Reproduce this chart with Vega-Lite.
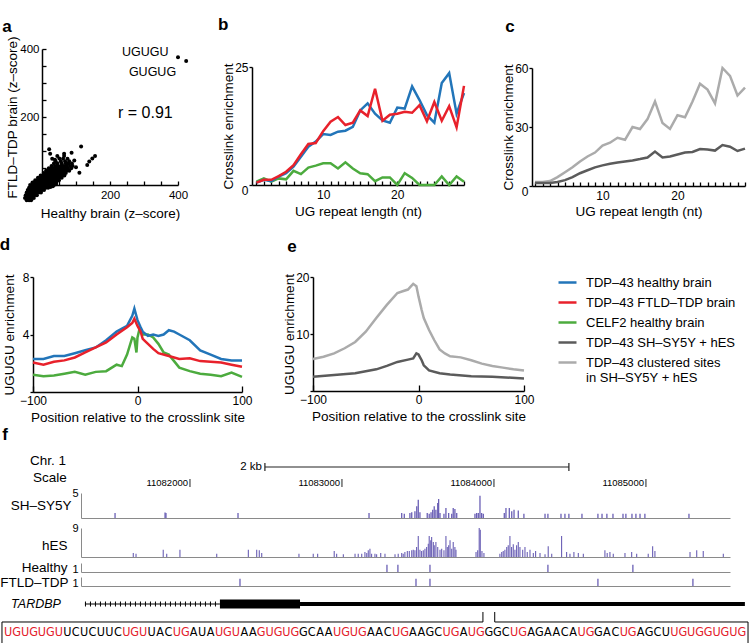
{
"$schema":"https://vega.github.io/schema/vega-lite/v6.json",
"width":750,"height":643,"padding":0,"autosize":{"type":"none"},
"config":{"view":{"stroke":null},"font":"Liberation Sans",
"axis":{"grid":false,"domainColor":"#000","domainWidth":1.5,"tickColor":"#000","tickWidth":1.3,"labelColor":"#000","labelFontSize":12,"labelFont":"Liberation Sans","titleFont":"Liberation Sans","titleColor":"#000","titleFontSize":13.5,"titleFontWeight":"normal","labelFlush":false,"labelOverlap":false,"labelBound":false},
"text":{"font":"Liberation Sans","color":"#000"},
"line":{"strokeWidth":2.5}},
"datasets":{
"scatter":[
{"x":-45,"y":-45},{"x":-38,"y":-45},{"x":-32,"y":-45},
{"x":-50,"y":-38},{"x":-44,"y":-38},{"x":-37,"y":-38},{"x":-30,"y":-38},{"x":-24,"y":-38},
{"x":-48,"y":-30},{"x":-42,"y":-30},{"x":-35,"y":-30},{"x":-28,"y":-30},{"x":-22,"y":-30},{"x":-15,"y":-30},
{"x":-45,"y":-22},{"x":-38,"y":-22},{"x":-31,"y":-22},{"x":-24,"y":-22},{"x":-17,"y":-22},{"x":-10,"y":-22},{"x":-3,"y":-22},
{"x":-42,"y":-15},{"x":-35,"y":-15},{"x":-28,"y":-15},{"x":-21,"y":-15},{"x":-14,"y":-15},{"x":-7,"y":-15},{"x":0,"y":-15},{"x":6,"y":-15},
{"x":-38,"y":-8},{"x":-31,"y":-8},{"x":-24,"y":-8},{"x":-17,"y":-8},{"x":-10,"y":-8},{"x":-3,"y":-8},{"x":4,"y":-8},{"x":11,"y":-8},{"x":18,"y":-8},{"x":25,"y":-6},{"x":32,"y":-4},
{"x":-35,"y":0},{"x":-28,"y":0},{"x":-21,"y":0},{"x":-14,"y":0},{"x":-7,"y":0},{"x":0,"y":0},{"x":7,"y":0},{"x":14,"y":0},{"x":21,"y":0},{"x":28,"y":0},{"x":35,"y":0},{"x":41,"y":2},
{"x":-28,"y":7},{"x":-21,"y":7},{"x":-14,"y":7},{"x":-7,"y":7},{"x":0,"y":7},{"x":7,"y":7},{"x":14,"y":7},{"x":21,"y":7},{"x":28,"y":7},{"x":35,"y":7},{"x":42,"y":7},
{"x":-20,"y":14},{"x":-13,"y":14},{"x":-6,"y":14},{"x":1,"y":14},{"x":8,"y":14},{"x":15,"y":14},{"x":22,"y":14},{"x":29,"y":14},{"x":36,"y":14},{"x":43,"y":14},{"x":50,"y":14},
{"x":-12,"y":21},{"x":-5,"y":21},{"x":2,"y":21},{"x":9,"y":21},{"x":16,"y":21},{"x":23,"y":21},{"x":30,"y":21},{"x":37,"y":21},{"x":44,"y":21},{"x":51,"y":21},{"x":58,"y":21},
{"x":-4,"y":28},{"x":3,"y":28},{"x":10,"y":28},{"x":17,"y":28},{"x":24,"y":28},{"x":31,"y":28},{"x":38,"y":28},{"x":45,"y":28},{"x":52,"y":28},{"x":60,"y":28},{"x":66,"y":28},
{"x":5,"y":35},{"x":12,"y":35},{"x":19,"y":35},{"x":26,"y":35},{"x":33,"y":35},{"x":40,"y":35},{"x":47,"y":35},{"x":54,"y":35},{"x":62,"y":35},{"x":70,"y":35},
{"x":12,"y":42},{"x":19,"y":42},{"x":26,"y":42},{"x":34,"y":42},{"x":41,"y":42},{"x":48,"y":42},{"x":56,"y":42},{"x":64,"y":42},{"x":72,"y":42},{"x":80,"y":42},
{"x":20,"y":49},{"x":28,"y":49},{"x":36,"y":49},{"x":44,"y":49},{"x":52,"y":49},{"x":60,"y":49},{"x":68,"y":49},{"x":76,"y":49},{"x":86,"y":49},
{"x":28,"y":56},{"x":38,"y":56},{"x":46,"y":56},{"x":55,"y":56},{"x":64,"y":56},{"x":72,"y":56},{"x":82,"y":56},{"x":90,"y":56},
{"x":35,"y":63},{"x":45,"y":63},{"x":58,"y":63},{"x":70,"y":63},{"x":78,"y":63},{"x":88,"y":63},
{"x":40,"y":70},{"x":55,"y":70},{"x":68,"y":70},{"x":80,"y":70},
{"x":30,"y":77},{"x":62,"y":77},{"x":75,"y":77},{"x":45,"y":85},{"x":65,"y":85},
{"x":21,"y":105},{"x":115,"y":113},{"x":156,"y":85},{"x":148,"y":78},{"x":139,"y":69},{"x":133,"y":59},{"x":110,"y":36},{"x":87,"y":95},{"x":65,"y":92},{"x":51,"y":78},{"x":38,"y":74},{"x":100,"y":52},{"x":95,"y":72},{"x":24,"y":92},
{"x":400,"y":376},{"x":424,"y":365}],
"ugB":[
{"len":1,"s":"celf2","v":0.7},{"len":2,"s":"celf2","v":1.4},{"len":3,"s":"celf2","v":0.7},{"len":4,"s":"celf2","v":1.4},{"len":5,"s":"celf2","v":1.2},{"len":6,"s":"celf2","v":3.0},{"len":7,"s":"celf2","v":2.3},{"len":8,"s":"celf2","v":3.7},{"len":9,"s":"celf2","v":4.1},{"len":10,"s":"celf2","v":4.6},{"len":11,"s":"celf2","v":4.6},{"len":12,"s":"celf2","v":3.5},{"len":13,"s":"celf2","v":4.8},{"len":14,"s":"celf2","v":3.5},{"len":15,"s":"celf2","v":2.5},{"len":16,"s":"celf2","v":2.3},{"len":17,"s":"celf2","v":0.8},{"len":18,"s":"celf2","v":1.6},{"len":19,"s":"celf2","v":1.6},{"len":20,"s":"celf2","v":0},{"len":21,"s":"celf2","v":2.5},{"len":22,"s":"celf2","v":1.5},{"len":23,"s":"celf2","v":0},{"len":24,"s":"celf2","v":0},{"len":25,"s":"celf2","v":0},{"len":26,"s":"celf2","v":1.8},{"len":27,"s":"celf2","v":0},{"len":28,"s":"celf2","v":1.8},{"len":29,"s":"celf2","v":0.7},
{"len":1,"s":"healthy","v":0.5},{"len":2,"s":"healthy","v":1.1},{"len":3,"s":"healthy","v":0.8},{"len":4,"s":"healthy","v":1.8},{"len":5,"s":"healthy","v":2.5},{"len":6,"s":"healthy","v":3.9},{"len":7,"s":"healthy","v":6.0},{"len":8,"s":"healthy","v":8.1},{"len":9,"s":"healthy","v":9.2},{"len":10,"s":"healthy","v":10.8},{"len":11,"s":"healthy","v":10.6},{"len":12,"s":"healthy","v":11.3},{"len":13,"s":"healthy","v":11.5},{"len":14,"s":"healthy","v":12.3},{"len":15,"s":"healthy","v":15.8},{"len":16,"s":"healthy","v":17.3},{"len":17,"s":"healthy","v":15.1},{"len":18,"s":"healthy","v":13.7},{"len":19,"s":"healthy","v":13.2},{"len":20,"s":"healthy","v":16.4},{"len":21,"s":"healthy","v":16.2},{"len":22,"s":"healthy","v":20.9},{"len":23,"s":"healthy","v":18.0},{"len":24,"s":"healthy","v":14.8},{"len":25,"s":"healthy","v":13.2},{"len":26,"s":"healthy","v":21.6},{"len":27,"s":"healthy","v":23.7},{"len":28,"s":"healthy","v":15.1},{"len":29,"s":"healthy","v":19.5},
{"len":1,"s":"ftld","v":0.5},{"len":2,"s":"ftld","v":1.1},{"len":3,"s":"ftld","v":1.1},{"len":4,"s":"ftld","v":1.9},{"len":5,"s":"ftld","v":2.8},{"len":6,"s":"ftld","v":4.2},{"len":7,"s":"ftld","v":6.5},{"len":8,"s":"ftld","v":8.7},{"len":9,"s":"ftld","v":8.9},{"len":10,"s":"ftld","v":11.4},{"len":11,"s":"ftld","v":13.4},{"len":12,"s":"ftld","v":14.4},{"len":13,"s":"ftld","v":12.7},{"len":14,"s":"ftld","v":13.2},{"len":15,"s":"ftld","v":15.8},{"len":16,"s":"ftld","v":14.6},{"len":17,"s":"ftld","v":20.4},{"len":18,"s":"ftld","v":13.6},{"len":19,"s":"ftld","v":14.9},{"len":20,"s":"ftld","v":15.1},{"len":21,"s":"ftld","v":15.5},{"len":22,"s":"ftld","v":15.3},{"len":23,"s":"ftld","v":16.9},{"len":24,"s":"ftld","v":13.5},{"len":25,"s":"ftld","v":17.6},{"len":26,"s":"ftld","v":13.6},{"len":27,"s":"ftld","v":16.7},{"len":28,"s":"ftld","v":12.2},{"len":29,"s":"ftld","v":21.0}],
"ugC":[
{"len":1,"s":"clustered","v":2},{"len":2,"s":"clustered","v":2},{"len":3,"s":"clustered","v":2.5},{"len":4,"s":"clustered","v":4.5},{"len":5,"s":"clustered","v":7},{"len":6,"s":"clustered","v":9.5},{"len":7,"s":"clustered","v":12.5},{"len":8,"s":"clustered","v":15},{"len":9,"s":"clustered","v":17},{"len":10,"s":"clustered","v":20.5},{"len":11,"s":"clustered","v":22},{"len":12,"s":"clustered","v":24.5},{"len":13,"s":"clustered","v":23.5},{"len":14,"s":"clustered","v":30},{"len":15,"s":"clustered","v":29},{"len":16,"s":"clustered","v":34},{"len":17,"s":"clustered","v":43},{"len":18,"s":"clustered","v":32},{"len":19,"s":"clustered","v":29},{"len":20,"s":"clustered","v":36},{"len":21,"s":"clustered","v":35},{"len":22,"s":"clustered","v":43},{"len":23,"s":"clustered","v":52},{"len":24,"s":"clustered","v":49},{"len":25,"s":"clustered","v":42},{"len":26,"s":"clustered","v":60},{"len":27,"s":"clustered","v":56},{"len":28,"s":"clustered","v":46},{"len":29,"s":"clustered","v":50},
{"len":1,"s":"cells","v":1.5},{"len":2,"s":"cells","v":1.5},{"len":3,"s":"cells","v":1.5},{"len":4,"s":"cells","v":2},{"len":5,"s":"cells","v":3},{"len":6,"s":"cells","v":4.5},{"len":7,"s":"cells","v":6.5},{"len":8,"s":"cells","v":8},{"len":9,"s":"cells","v":9.5},{"len":10,"s":"cells","v":10.5},{"len":11,"s":"cells","v":11.3},{"len":12,"s":"cells","v":12},{"len":13,"s":"cells","v":12.5},{"len":14,"s":"cells","v":13},{"len":15,"s":"cells","v":13.7},{"len":16,"s":"cells","v":14.5},{"len":17,"s":"cells","v":17.5},{"len":18,"s":"cells","v":14.5},{"len":19,"s":"cells","v":15},{"len":20,"s":"cells","v":16},{"len":21,"s":"cells","v":17},{"len":22,"s":"cells","v":17.3},{"len":23,"s":"cells","v":18.8},{"len":24,"s":"cells","v":18.5},{"len":25,"s":"cells","v":18},{"len":26,"s":"cells","v":20.8},{"len":27,"s":"cells","v":20},{"len":28,"s":"cells","v":17.8},{"len":29,"s":"cells","v":19}],
"posD":[
{"p":-100,"s":"celf2","v":1.2},{"p":-90,"s":"celf2","v":1.1},{"p":-80,"s":"celf2","v":1.15},{"p":-70,"s":"celf2","v":1.27},{"p":-60,"s":"celf2","v":1.4},{"p":-50,"s":"celf2","v":1.2},{"p":-40,"s":"celf2","v":1.4},{"p":-30,"s":"celf2","v":1.45},{"p":-20,"s":"celf2","v":1.9},{"p":-15,"s":"celf2","v":1.8},{"p":-10,"s":"celf2","v":2.6},{"p":-5,"s":"celf2","v":3.8},{"p":-3,"s":"celf2","v":3.7},{"p":-1,"s":"celf2","v":2.75},{"p":0,"s":"celf2","v":3.8},{"p":2,"s":"celf2","v":4.4},{"p":5,"s":"celf2","v":4.0},{"p":10,"s":"celf2","v":4.0},{"p":15,"s":"celf2","v":3.8},{"p":20,"s":"celf2","v":3.35},{"p":25,"s":"celf2","v":2.75},{"p":30,"s":"celf2","v":2.6},{"p":35,"s":"celf2","v":2.15},{"p":40,"s":"celf2","v":1.7},{"p":50,"s":"celf2","v":1.45},{"p":60,"s":"celf2","v":1.27},{"p":70,"s":"celf2","v":1.2},{"p":80,"s":"celf2","v":1.1},{"p":90,"s":"celf2","v":1.35},{"p":100,"s":"celf2","v":1.05},
{"p":-100,"s":"healthy","v":2.3},{"p":-90,"s":"healthy","v":2.3},{"p":-80,"s":"healthy","v":2.5},{"p":-70,"s":"healthy","v":2.5},{"p":-60,"s":"healthy","v":2.7},{"p":-50,"s":"healthy","v":2.9},{"p":-40,"s":"healthy","v":3.1},{"p":-30,"s":"healthy","v":3.6},{"p":-20,"s":"healthy","v":4.2},{"p":-10,"s":"healthy","v":4.6},{"p":-5,"s":"healthy","v":5.3},{"p":-3,"s":"healthy","v":5.8},{"p":0,"s":"healthy","v":5.0},{"p":3,"s":"healthy","v":4.5},{"p":5,"s":"healthy","v":4.2},{"p":10,"s":"healthy","v":3.9},{"p":15,"s":"healthy","v":4.0},{"p":20,"s":"healthy","v":3.9},{"p":25,"s":"healthy","v":4.0},{"p":30,"s":"healthy","v":4.3},{"p":35,"s":"healthy","v":4.2},{"p":40,"s":"healthy","v":4.0},{"p":50,"s":"healthy","v":3.6},{"p":60,"s":"healthy","v":2.9},{"p":70,"s":"healthy","v":2.6},{"p":80,"s":"healthy","v":2.3},{"p":90,"s":"healthy","v":2.2},{"p":100,"s":"healthy","v":2.2},
{"p":-100,"s":"ftld","v":2.05},{"p":-90,"s":"ftld","v":1.9},{"p":-80,"s":"ftld","v":2.1},{"p":-70,"s":"ftld","v":2.2},{"p":-60,"s":"ftld","v":2.4},{"p":-50,"s":"ftld","v":2.75},{"p":-40,"s":"ftld","v":3.1},{"p":-30,"s":"ftld","v":3.45},{"p":-20,"s":"ftld","v":4.0},{"p":-10,"s":"ftld","v":4.5},{"p":-5,"s":"ftld","v":4.8},{"p":-3,"s":"ftld","v":5.1},{"p":0,"s":"ftld","v":4.6},{"p":3,"s":"ftld","v":4.2},{"p":5,"s":"ftld","v":3.7},{"p":10,"s":"ftld","v":3.35},{"p":15,"s":"ftld","v":3.0},{"p":20,"s":"ftld","v":2.7},{"p":30,"s":"ftld","v":2.5},{"p":40,"s":"ftld","v":2.3},{"p":50,"s":"ftld","v":2.35},{"p":60,"s":"ftld","v":2.15},{"p":70,"s":"ftld","v":2.1},{"p":80,"s":"ftld","v":2.05},{"p":90,"s":"ftld","v":1.9},{"p":100,"s":"ftld","v":1.75}],
"posE":[
{"p":-100,"s":"clustered","v":5.6},{"p":-90,"s":"clustered","v":6.0},{"p":-80,"s":"clustered","v":6.6},{"p":-70,"s":"clustered","v":7.5},{"p":-60,"s":"clustered","v":8.6},{"p":-50,"s":"clustered","v":10.4},{"p":-40,"s":"clustered","v":12.8},{"p":-30,"s":"clustered","v":15.1},{"p":-20,"s":"clustered","v":17.2},{"p":-15,"s":"clustered","v":17.5},{"p":-10,"s":"clustered","v":17.8},{"p":-7,"s":"clustered","v":18.4},{"p":-5,"s":"clustered","v":18.8},{"p":-2,"s":"clustered","v":18.4},{"p":0,"s":"clustered","v":16.6},{"p":3,"s":"clustered","v":14.2},{"p":5,"s":"clustered","v":12.8},{"p":10,"s":"clustered","v":10.7},{"p":15,"s":"clustered","v":8.9},{"p":20,"s":"clustered","v":7.3},{"p":25,"s":"clustered","v":6.6},{"p":30,"s":"clustered","v":6.1},{"p":40,"s":"clustered","v":5.9},{"p":50,"s":"clustered","v":5.4},{"p":60,"s":"clustered","v":4.8},{"p":70,"s":"clustered","v":4.4},{"p":80,"s":"clustered","v":4.1},{"p":90,"s":"clustered","v":3.8},{"p":100,"s":"clustered","v":3.6},
{"p":-100,"s":"cells","v":2.5},{"p":-80,"s":"cells","v":2.8},{"p":-60,"s":"cells","v":3.1},{"p":-40,"s":"cells","v":3.8},{"p":-30,"s":"cells","v":4.4},{"p":-20,"s":"cells","v":5.1},{"p":-10,"s":"cells","v":5.5},{"p":-5,"s":"cells","v":5.7},{"p":-2,"s":"cells","v":6.6},{"p":0,"s":"cells","v":6.4},{"p":3,"s":"cells","v":5.4},{"p":5,"s":"cells","v":4.5},{"p":10,"s":"cells","v":3.6},{"p":20,"s":"cells","v":3.1},{"p":30,"s":"cells","v":2.9},{"p":50,"s":"cells","v":2.6},{"p":70,"s":"cells","v":2.5},{"p":100,"s":"cells","v":2.2}],
"shsy5y":[{"pos":11081507,"v":1.0},{"pos":11081836,"v":1.1},{"pos":11081842,"v":1.0},{"pos":11082316,"v":1.0},{"pos":11083178,"v":1.0},{"pos":11083393,"v":1.0},{"pos":11083410,"v":0.87},{"pos":11083447,"v":1.0},{"pos":11083459,"v":1.13},{"pos":11083480,"v":1.33},{"pos":11083492,"v":2.33},{"pos":11083502,"v":3.67},{"pos":11083513,"v":1.13},{"pos":11083561,"v":1.0},{"pos":11083574,"v":0.87},{"pos":11083586,"v":1.13},{"pos":11083597,"v":1.67},{"pos":11083607,"v":2.33},{"pos":11083618,"v":1.67},{"pos":11083630,"v":3.0},{"pos":11083636,"v":3.8},{"pos":11083645,"v":1.0},{"pos":11083671,"v":0.87},{"pos":11083684,"v":2.0},{"pos":11083702,"v":1.0},{"pos":11083722,"v":0.87},{"pos":11083732,"v":2.0},{"pos":11083743,"v":1.8},{"pos":11083755,"v":1.0},{"pos":11083875,"v":0.87},{"pos":11083886,"v":1.0},{"pos":11083897,"v":1.0},{"pos":11083908,"v":4.47},{"pos":11083919,"v":1.0},{"pos":11083930,"v":0.87},{"pos":11084068,"v":1.0},{"pos":11084079,"v":2.0},{"pos":11084101,"v":2.0},{"pos":11084117,"v":1.33},{"pos":11084132,"v":1.67},{"pos":11084160,"v":1.5},{"pos":11084197,"v":0.87},{"pos":11084336,"v":0.87},{"pos":11084355,"v":0.87},{"pos":11084441,"v":0.87},{"pos":11084467,"v":0.87},{"pos":11084493,"v":0.87},{"pos":11084579,"v":0.87},{"pos":11084684,"v":0.87},{"pos":11084711,"v":0.87},{"pos":11084743,"v":0.87},{"pos":11084783,"v":0.87},{"pos":11084849,"v":0.87},{"pos":11084868,"v":0.87},{"pos":11084908,"v":0.87},{"pos":11084934,"v":0.87},{"pos":11084961,"v":0.87},{"pos":11084993,"v":0.87},{"pos":11085283,"v":0.87}],
"hes":[{"pos":11081627,"v":1.24},{"pos":11081645,"v":1.03},{"pos":11081824,"v":2.27},{"pos":11081847,"v":1.03},{"pos":11081934,"v":2.27},{"pos":11082176,"v":1.03},{"pos":11082384,"v":2.27},{"pos":11082439,"v":2.27},{"pos":11082456,"v":2.07},{"pos":11082472,"v":1.24},{"pos":11082717,"v":1.03},{"pos":11082811,"v":1.03},{"pos":11082840,"v":1.03},{"pos":11082949,"v":1.86},{"pos":11082965,"v":1.03},{"pos":11083009,"v":0.83},{"pos":11083086,"v":1.03},{"pos":11083107,"v":1.03},{"pos":11083130,"v":1.03},{"pos":11083151,"v":1.55},{"pos":11083163,"v":1.24},{"pos":11083173,"v":2.07},{"pos":11083184,"v":2.59},{"pos":11083195,"v":1.03},{"pos":11083217,"v":1.03},{"pos":11083228,"v":0.83},{"pos":11083255,"v":1.24},{"pos":11083283,"v":1.03},{"pos":11083349,"v":0.83},{"pos":11083370,"v":1.03},{"pos":11083393,"v":1.24},{"pos":11083403,"v":1.03},{"pos":11083414,"v":1.55},{"pos":11083430,"v":1.86},{"pos":11083443,"v":1.86},{"pos":11083459,"v":2.07},{"pos":11083469,"v":2.27},{"pos":11083480,"v":2.07},{"pos":11083491,"v":3.1},{"pos":11083502,"v":6.51},{"pos":11083513,"v":2.27},{"pos":11083524,"v":1.86},{"pos":11083535,"v":2.07},{"pos":11083546,"v":2.59},{"pos":11083557,"v":3.1},{"pos":11083568,"v":4.14},{"pos":11083574,"v":6.51},{"pos":11083584,"v":5.17},{"pos":11083590,"v":6.2},{"pos":11083601,"v":4.65},{"pos":11083607,"v":3.62},{"pos":11083618,"v":4.65},{"pos":11083630,"v":3.1},{"pos":11083645,"v":2.27},{"pos":11083656,"v":2.59},{"pos":11083671,"v":2.07},{"pos":11083684,"v":6.51},{"pos":11083693,"v":3.1},{"pos":11083702,"v":3.62},{"pos":11083711,"v":5.17},{"pos":11083722,"v":2.59},{"pos":11083732,"v":4.65},{"pos":11083743,"v":3.1},{"pos":11083750,"v":2.27},{"pos":11083882,"v":1.55},{"pos":11083893,"v":2.07},{"pos":11083903,"v":9.0},{"pos":11083910,"v":8.48},{"pos":11083921,"v":1.86},{"pos":11083934,"v":1.24},{"pos":11084039,"v":1.03},{"pos":11084051,"v":1.55},{"pos":11084061,"v":1.86},{"pos":11084072,"v":2.27},{"pos":11084084,"v":3.1},{"pos":11084094,"v":3.62},{"pos":11084105,"v":6.51},{"pos":11084116,"v":3.1},{"pos":11084127,"v":3.93},{"pos":11084138,"v":2.27},{"pos":11084149,"v":3.62},{"pos":11084160,"v":4.65},{"pos":11084171,"v":3.1},{"pos":11084189,"v":2.27},{"pos":11084204,"v":3.1},{"pos":11084219,"v":1.55},{"pos":11084237,"v":2.27},{"pos":11084259,"v":1.24},{"pos":11084274,"v":1.86},{"pos":11084303,"v":1.24},{"pos":11084336,"v":0.83},{"pos":11084357,"v":3.31},{"pos":11084380,"v":1.03},{"pos":11084445,"v":6.51},{"pos":11084478,"v":1.55},{"pos":11084500,"v":1.03},{"pos":11084526,"v":1.55},{"pos":11084555,"v":1.24},{"pos":11084588,"v":1.03},{"pos":11084730,"v":2.07},{"pos":11084745,"v":1.24},{"pos":11084763,"v":1.55},{"pos":11084785,"v":1.03},{"pos":11084862,"v":1.24},{"pos":11084906,"v":1.55},{"pos":11084939,"v":1.03},{"pos":11085015,"v":1.03},{"pos":11085044,"v":3.31},{"pos":11085059,"v":1.86},{"pos":11085290,"v":1.55},{"pos":11085334,"v":2.07},{"pos":11085377,"v":1.86},{"pos":11085509,"v":1.03}],
"healthy":[{"pos":11083296,"v":0.8},{"pos":11083368,"v":0.8},{"pos":11083579,"v":0.8},{"pos":11084355,"v":0.8},{"pos":11084914,"v":0.8}],
"ftld":[{"pos":11082329,"v":0.8},{"pos":11083487,"v":0.8},{"pos":11083579,"v":0.8},{"pos":11084684,"v":0.8},{"pos":11085309,"v":0.8}],
"gene":[{"part":"intron","start":11081309,"end":11082197},{"part":"cds","start":11082197,"end":11082724},{"part":"utr","start":11082724,"end":11085651}],
"coords":[{"pos":11082000,"label":"11082000"},{"pos":11083000,"label":"11083000"},{"pos":11084000,"label":"11084000"},{"pos":11085000,"label":"11085000"}],
"scalebar":[{"start":11082493,"end":11084493,"label":"2 kb"}],
"seqbox":[{"x":-0.74,"x2":-0.74,"y":-1,"y2":6.67},{"x":87.74,"x2":87.74,"y":-1,"y2":6.67},{"x":-0.74,"x2":56.3,"y":6.67,"y2":6.67},{"x":57.7,"x2":87.74,"y":6.67,"y2":6.67},{"x":56.3,"x2":56.3,"y":6.67,"y2":10},{"x":57.7,"x2":57.7,"y":6.67,"y2":10}],
"seq":[{"i":0,"nt":"U","ug":1},{"i":1,"nt":"G","ug":1},{"i":2,"nt":"U","ug":1},{"i":3,"nt":"G","ug":1},{"i":4,"nt":"U","ug":1},{"i":5,"nt":"G","ug":1},{"i":6,"nt":"U","ug":1},{"i":7,"nt":"U","ug":0},{"i":8,"nt":"C","ug":0},{"i":9,"nt":"U","ug":0},{"i":10,"nt":"C","ug":0},{"i":11,"nt":"U","ug":0},{"i":12,"nt":"U","ug":0},{"i":13,"nt":"C","ug":0},{"i":14,"nt":"U","ug":1},{"i":15,"nt":"G","ug":1},{"i":16,"nt":"U","ug":1},{"i":17,"nt":"U","ug":0},{"i":18,"nt":"A","ug":0},{"i":19,"nt":"C","ug":0},{"i":20,"nt":"U","ug":1},{"i":21,"nt":"G","ug":1},{"i":22,"nt":"A","ug":0},{"i":23,"nt":"U","ug":0},{"i":24,"nt":"A","ug":0},{"i":25,"nt":"U","ug":1},{"i":26,"nt":"G","ug":1},{"i":27,"nt":"U","ug":1},{"i":28,"nt":"A","ug":0},{"i":29,"nt":"A","ug":0},{"i":30,"nt":"G","ug":1},{"i":31,"nt":"U","ug":1},{"i":32,"nt":"G","ug":1},{"i":33,"nt":"U","ug":1},{"i":34,"nt":"G","ug":1},{"i":35,"nt":"G","ug":0},{"i":36,"nt":"C","ug":0},{"i":37,"nt":"A","ug":0},{"i":38,"nt":"A","ug":0},{"i":39,"nt":"U","ug":1},{"i":40,"nt":"G","ug":1},{"i":41,"nt":"U","ug":1},{"i":42,"nt":"G","ug":1},{"i":43,"nt":"A","ug":0},{"i":44,"nt":"A","ug":0},{"i":45,"nt":"C","ug":0},{"i":46,"nt":"U","ug":1},{"i":47,"nt":"G","ug":1},{"i":48,"nt":"A","ug":0},{"i":49,"nt":"A","ug":0},{"i":50,"nt":"G","ug":0},{"i":51,"nt":"C","ug":0},{"i":52,"nt":"U","ug":1},{"i":53,"nt":"G","ug":1},{"i":54,"nt":"A","ug":0},{"i":55,"nt":"U","ug":1},{"i":56,"nt":"G","ug":1},{"i":57,"nt":"G","ug":0},{"i":58,"nt":"G","ug":0},{"i":59,"nt":"C","ug":0},{"i":60,"nt":"U","ug":1},{"i":61,"nt":"G","ug":1},{"i":62,"nt":"A","ug":0},{"i":63,"nt":"G","ug":0},{"i":64,"nt":"A","ug":0},{"i":65,"nt":"A","ug":0},{"i":66,"nt":"C","ug":0},{"i":67,"nt":"A","ug":0},{"i":68,"nt":"U","ug":1},{"i":69,"nt":"G","ug":1},{"i":70,"nt":"G","ug":0},{"i":71,"nt":"A","ug":0},{"i":72,"nt":"C","ug":0},{"i":73,"nt":"U","ug":1},{"i":74,"nt":"G","ug":1},{"i":75,"nt":"A","ug":0},{"i":76,"nt":"G","ug":0},{"i":77,"nt":"C","ug":0},{"i":78,"nt":"U","ug":0},{"i":79,"nt":"U","ug":1},{"i":80,"nt":"G","ug":1},{"i":81,"nt":"U","ug":1},{"i":82,"nt":"G","ug":1},{"i":83,"nt":"G","ug":1},{"i":84,"nt":"U","ug":1},{"i":85,"nt":"G","ug":1},{"i":86,"nt":"U","ug":1},{"i":87,"nt":"G","ug":1}]
},
"layer":[
{"data":{"name":"scatter"},"mark":{"type":"circle","size":16,"color":"#000","opacity":1},
"encoding":{
"x":{"field":"x","type":"quantitative","scale":{"domain":[0,400],"range":[42,178],"nice":false,"zero":false},"axis":{"orient":"bottom","offset":-458,"values":[0,50,100,150,200,250,300,350,400],"labelExpr":"datum.value==200||datum.value==400?datum.label:''","tickSize":-4,"labelPadding":8,"labelFontSize":11.5,"title":"Healthy brain (z–score)","titleY":28,"titleBaseline":"middle"}},
"y":{"field":"y","type":"quantitative","scale":{"domain":[0,400],"range":[185,49],"nice":false,"zero":false},"axis":{"orient":"left","offset":-42,"values":[0,50,100,150,200,250,300,350,400],"labelExpr":"datum.value==200||datum.value==400?datum.label:''","tickSize":-4,"labelPadding":7,"labelFontSize":11.5,"title":"FTLD–TDP brain (z–score)","titleX":-30,"titleAngle":-90,"titleBaseline":"middle"}}}},
{"data":{"values":[{}]},"mark":{"type":"text","text":"UGUGU","fontSize":12.5,"align":"center","baseline":"middle"},"encoding":{"x":{"datum":304,"type":"quantitative","scale":{"domain":[0,400],"range":[42,178],"nice":false,"zero":false},"axis":null},"y":{"datum":391,"type":"quantitative","scale":{"domain":[0,400],"range":[185,49],"nice":false,"zero":false},"axis":null}}},
{"data":{"values":[{}]},"mark":{"type":"text","text":"GUGUG","fontSize":12.5,"align":"center","baseline":"middle"},"encoding":{"x":{"datum":325,"type":"quantitative","scale":{"domain":[0,400],"range":[42,178],"nice":false,"zero":false},"axis":null},"y":{"datum":332,"type":"quantitative","scale":{"domain":[0,400],"range":[185,49],"nice":false,"zero":false},"axis":null}}},
{"data":{"values":[{}]},"mark":{"type":"text","text":"r = 0.91","fontSize":16,"align":"center","baseline":"middle"},"encoding":{"x":{"datum":304,"type":"quantitative","scale":{"domain":[0,400],"range":[42,178],"nice":false,"zero":false},"axis":null},"y":{"datum":212,"type":"quantitative","scale":{"domain":[0,400],"range":[185,49],"nice":false,"zero":false},"axis":null}}},
{"data":{"values":[{}]},"mark":{"type":"text","text":"a","fontSize":17,"fontWeight":"bold","align":"center","baseline":"middle"},"encoding":{"x":{"datum":-103,"type":"quantitative","scale":{"domain":[0,400],"range":[42,178],"nice":false,"zero":false},"axis":null},"y":{"datum":465,"type":"quantitative","scale":{"domain":[0,400],"range":[185,49],"nice":false,"zero":false},"axis":null}}},
{"data":{"name":"ugB"},"mark":{"type":"line","strokeWidth":2.5},
"encoding":{
"x":{"field":"len","type":"quantitative","scale":{"domain":[0.4,29],"range":[252,464],"nice":false,"zero":false},"axis":{"orient":"bottom","offset":-458,"values":[1,2,3,4,5,6,7,8,9,10,11,12,13,14,15,16,17,18,19,20,21,22,23,24,25,26,27,28,29],"labelExpr":"datum.value==10||datum.value==20?datum.label:''","tickSize":-4,"labelPadding":8,"title":"UG repeat length (nt)","titleY":26,"titleBaseline":"middle"}},
"y":{"field":"v","type":"quantitative","scale":{"domain":[0,25],"range":[185,67],"nice":false,"zero":false},"axis":{"orient":"left","offset":-252,"values":[0,25],"tickSize":3,"labelPadding":1,"labelBaseline":{"condition":{"test":"datum.value==0","value":"top"},"value":"middle"},"title":"Crosslink enrichment","titleX":-24,"titleAngle":-90,"titleBaseline":"middle"}},
"color":{"field":"s","type":"nominal","scale":{"domain":["healthy","ftld","celf2","cells","clustered"],"range":["#2275b9","#e8212b","#4cab3e","#5b5b5b","#ababab"]},"legend":{"orient":"none","legendX":557,"legendY":272,"title":null,"symbolType":"stroke","symbolSize":324,"symbolStrokeWidth":2.5,"labelFontSize":13,"labelOffset":8,"rowPadding":2,"padding":0,"labelLimit":400,"labelExpr":"datum.label=='healthy'?'TDP–43 healthy brain':datum.label=='ftld'?'TDP–43 FTLD–TDP brain':datum.label=='celf2'?'CELF2 healthy brain':datum.label=='cells'?'TDP–43 SH–SY5Y + hES':['TDP–43 clustered sites','in SH–SY5Y + hES']"}}}},
{"data":{"values":[{}]},"mark":{"type":"text","text":"b","fontSize":17,"fontWeight":"bold","align":"center","baseline":"middle"},"encoding":{"x":{"datum":-3.5,"type":"quantitative","scale":{"domain":[0.4,29],"range":[252,464],"nice":false,"zero":false},"axis":null},"y":{"datum":33.9,"type":"quantitative","scale":{"domain":[0,25],"range":[185,67],"nice":false,"zero":false},"axis":null}}},
{"data":{"name":"ugC"},"mark":{"type":"line","strokeWidth":2.5},
"encoding":{
"x":{"field":"len","type":"quantitative","scale":{"domain":[0.6,29],"range":[532,745],"nice":false,"zero":false},"axis":{"orient":"bottom","offset":-457,"values":[1,2,3,4,5,6,7,8,9,10,11,12,13,14,15,16,17,18,19,20,21,22,23,24,25,26,27,28,29],"labelExpr":"datum.value==10||datum.value==20?datum.label:''","tickSize":-4,"labelPadding":8,"title":"UG repeat length (nt)","titleY":25,"titleBaseline":"middle"}},
"y":{"field":"v","type":"quantitative","scale":{"domain":[0,60],"range":[186,68],"nice":false,"zero":false},"axis":{"orient":"left","offset":-532,"values":[0,30,60],"tickSize":3,"labelPadding":1,"labelBaseline":{"condition":{"test":"datum.value==0","value":"top"},"value":"middle"},"title":"Crosslink enrichment","titleX":-24,"titleAngle":-90,"titleBaseline":"middle"}},
"color":{"field":"s","type":"nominal","scale":{"domain":["healthy","ftld","celf2","cells","clustered"],"range":["#2275b9","#e8212b","#4cab3e","#5b5b5b","#ababab"]},"legend":{"orient":"none","legendX":557,"legendY":272,"title":null,"symbolType":"stroke","symbolSize":324,"symbolStrokeWidth":2.5,"labelFontSize":13,"labelOffset":8,"rowPadding":2,"padding":0,"labelLimit":400,"labelExpr":"datum.label=='healthy'?'TDP–43 healthy brain':datum.label=='ftld'?'TDP–43 FTLD–TDP brain':datum.label=='celf2'?'CELF2 healthy brain':datum.label=='cells'?'TDP–43 SH–SY5Y + hES':['TDP–43 clustered sites','in SH–SY5Y + hES']"}}}},
{"data":{"values":[{}]},"mark":{"type":"text","text":"c","fontSize":17,"fontWeight":"bold","align":"center","baseline":"middle"},"encoding":{"x":{"datum":-2.33,"type":"quantitative","scale":{"domain":[0.6,29],"range":[532,745],"nice":false,"zero":false},"axis":null},"y":{"datum":80.8,"type":"quantitative","scale":{"domain":[0,60],"range":[186,68],"nice":false,"zero":false},"axis":null}}},
{"data":{"name":"posD"},"mark":{"type":"line","strokeWidth":2.5},
"encoding":{
"x":{"field":"p","type":"quantitative","scale":{"domain":[-100,100],"range":[33,242],"nice":false,"zero":false},"axis":{"orient":"bottom","offset":-251,"values":[-100,0,100],"tickSize":-6,"labelPadding":9,"title":"Position relative to the crosslink site","titleY":25,"titleBaseline":"middle"}},
"y":{"field":"v","type":"quantitative","scale":{"domain":[0,8],"range":[392,277],"nice":false,"zero":false},"axis":{"orient":"left","offset":-33,"values":[0,4,8],"labelExpr":"datum.value==0?'':datum.label","tickSize":3,"labelPadding":1,"title":"UGUGU enrichment","titleX":-24,"titleAngle":-90,"titleBaseline":"middle"}},
"color":{"field":"s","type":"nominal","scale":{"domain":["healthy","ftld","celf2","cells","clustered"],"range":["#2275b9","#e8212b","#4cab3e","#5b5b5b","#ababab"]},"legend":{"orient":"none","legendX":557,"legendY":272,"title":null,"symbolType":"stroke","symbolSize":324,"symbolStrokeWidth":2.5,"labelFontSize":13,"labelOffset":8,"rowPadding":2,"padding":0,"labelLimit":400,"labelExpr":"datum.label=='healthy'?'TDP–43 healthy brain':datum.label=='ftld'?'TDP–43 FTLD–TDP brain':datum.label=='celf2'?'CELF2 healthy brain':datum.label=='cells'?'TDP–43 SH–SY5Y + hES':['TDP–43 clustered sites','in SH–SY5Y + hES']"}}}},
{"data":{"values":[{}]},"mark":{"type":"text","text":"d","fontSize":17,"fontWeight":"bold","align":"center","baseline":"middle"},"encoding":{"x":{"datum":-126.8,"type":"quantitative","scale":{"domain":[-100,100],"range":[33,242],"nice":false,"zero":false},"axis":null},"y":{"datum":10.23,"type":"quantitative","scale":{"domain":[0,8],"range":[392,277],"nice":false,"zero":false},"axis":null}}},
{"data":{"name":"posE"},"mark":{"type":"line","strokeWidth":2.5},
"encoding":{
"x":{"field":"p","type":"quantitative","scale":{"domain":[-100,100],"range":[313,524],"nice":false,"zero":false},"axis":{"orient":"bottom","offset":-252,"values":[-100,0,100],"tickSize":-6,"labelPadding":9,"title":"Position relative to the crosslink site","titleY":25,"titleBaseline":"middle"}},
"y":{"field":"v","type":"quantitative","scale":{"domain":[0,20],"range":[391,277],"nice":false,"zero":false},"axis":{"orient":"left","offset":-313,"values":[0,10,20],"labelExpr":"datum.value==0?'':datum.label","tickSize":3,"labelPadding":1,"title":"UGUGU enrichment","titleX":-24,"titleAngle":-90,"titleBaseline":"middle"}},
"color":{"field":"s","type":"nominal","scale":{"domain":["healthy","ftld","celf2","cells","clustered"],"range":["#2275b9","#e8212b","#4cab3e","#5b5b5b","#ababab"]},"legend":{"orient":"none","legendX":557,"legendY":272,"title":null,"symbolType":"stroke","symbolSize":324,"symbolStrokeWidth":2.5,"labelFontSize":13,"labelOffset":8,"rowPadding":2,"padding":0,"labelLimit":400,"labelExpr":"datum.label=='healthy'?'TDP–43 healthy brain':datum.label=='ftld'?'TDP–43 FTLD–TDP brain':datum.label=='celf2'?'CELF2 healthy brain':datum.label=='cells'?'TDP–43 SH–SY5Y + hES':['TDP–43 clustered sites','in SH–SY5Y + hES']"}}}},
{"data":{"values":[{}]},"mark":{"type":"text","text":"e","fontSize":17,"fontWeight":"bold","align":"center","baseline":"middle"},"encoding":{"x":{"datum":-119.9,"type":"quantitative","scale":{"domain":[-100,100],"range":[313,524],"nice":false,"zero":false},"axis":null},"y":{"datum":25.3,"type":"quantitative","scale":{"domain":[0,20],"range":[391,277],"nice":false,"zero":false},"axis":null}}},
{"data":{"values":[{}]},"mark":{"type":"text","text":"f","fontSize":17,"fontWeight":"bold","align":"center","baseline":"middle"},"encoding":{"x":{"datum":11080783,"type":"quantitative","scale":{"domain":[11081283,11085553],"range":[81,730],"nice":false,"zero":false},"axis":null},"y":{"datum":13.75,"type":"quantitative","scale":{"domain":[0,10],"range":[490,450],"nice":false,"zero":false},"axis":null}}},
{"data":{"values":[{}]},"mark":{"type":"text","text":"Chr. 1","fontSize":13.5,"align":"center","baseline":"middle"},"encoding":{"x":{"datum":11081066,"type":"quantitative","scale":{"domain":[11081283,11085553],"range":[81,730],"nice":false,"zero":false},"axis":null},"y":{"datum":7.25,"type":"quantitative","scale":{"domain":[0,10],"range":[490,450],"nice":false,"zero":false},"axis":null}}},
{"data":{"values":[{}]},"mark":{"type":"text","text":"Scale","fontSize":13.5,"align":"center","baseline":"middle"},"encoding":{"x":{"datum":11081079,"type":"quantitative","scale":{"domain":[11081283,11085553],"range":[81,730],"nice":false,"zero":false},"axis":null},"y":{"datum":3,"type":"quantitative","scale":{"domain":[0,10],"range":[490,450],"nice":false,"zero":false},"axis":null}}},
{"data":{"name":"scalebar"},"mark":{"type":"rule","color":"#222","strokeWidth":1.2},"encoding":{"x":{"field":"start","type":"quantitative","scale":{"domain":[11081283,11085553],"range":[81,730],"nice":false,"zero":false},"axis":null},"x2":{"field":"end"},"y":{"datum":5.75,"type":"quantitative","scale":{"domain":[0,10],"range":[490,450],"nice":false,"zero":false},"axis":null}}},
{"data":{"name":"scalebar"},"mark":{"type":"rule","color":"#222","strokeWidth":1.2},"encoding":{"x":{"field":"start","type":"quantitative","scale":{"domain":[11081283,11085553],"range":[81,730],"nice":false,"zero":false},"axis":null},"y":{"datum":4.75,"type":"quantitative","scale":{"domain":[0,10],"range":[490,450],"nice":false,"zero":false},"axis":null},"y2":{"datum":6.75}}},
{"data":{"name":"scalebar"},"mark":{"type":"rule","color":"#222","strokeWidth":1.2},"encoding":{"x":{"field":"end","type":"quantitative","scale":{"domain":[11081283,11085553],"range":[81,730],"nice":false,"zero":false},"axis":null},"y":{"datum":4.75,"type":"quantitative","scale":{"domain":[0,10],"range":[490,450],"nice":false,"zero":false},"axis":null},"y2":{"datum":6.75}}},
{"data":{"name":"scalebar"},"mark":{"type":"text","fontSize":11.5,"align":"right","baseline":"middle","dx":-3},"encoding":{"x":{"field":"start","type":"quantitative","scale":{"domain":[11081283,11085553],"range":[81,730],"nice":false,"zero":false},"axis":null},"y":{"datum":5.75,"type":"quantitative","scale":{"domain":[0,10],"range":[490,450],"nice":false,"zero":false},"axis":null},"text":{"field":"label"}}},
{"data":{"name":"coords"},"mark":{"type":"text","fontSize":9.5,"align":"right","baseline":"middle","dx":-2},"encoding":{"x":{"field":"pos","type":"quantitative","scale":{"domain":[11081283,11085553],"range":[81,730],"nice":false,"zero":false},"axis":null},"y":{"datum":1.75,"type":"quantitative","scale":{"domain":[0,10],"range":[490,450],"nice":false,"zero":false},"axis":null},"text":{"field":"label"}}},
{"data":{"name":"coords"},"mark":{"type":"rule","color":"#222","strokeWidth":1},"encoding":{"x":{"field":"pos","type":"quantitative","scale":{"domain":[11081283,11085553],"range":[81,730],"nice":false,"zero":false},"axis":null},"y":{"datum":0.75,"type":"quantitative","scale":{"domain":[0,10],"range":[490,450],"nice":false,"zero":false},"axis":null},"y2":{"datum":2.75}}},
{"data":{"name":"shsy5y"},"mark":{"type":"rule","color":"#6a5fb5","strokeWidth":1.3},"encoding":{
"x":{"field":"pos","type":"quantitative","scale":{"domain":[11081283,11085553],"range":[81,730],"nice":false,"zero":false},"axis":{"orient":"bottom","offset":-125,"ticks":false,"labels":false,"title":null,"domainColor":"#8a8a8a","domainWidth":1}},
"y":{"field":"v","type":"quantitative","scale":{"domain":[0,5],"range":[518,493],"nice":false,"zero":false},"axis":{"orient":"left","offset":-81,"values":[5],"ticks":false,"labelPadding":3,"labelFontSize":11,"domainColor":"#8a8a8a","domainWidth":1,"title":"SH–SY5Y","titleAngle":0,"titleAlign":"right","titleBaseline":"middle","titleX":-10,"titleY":505}},
"y2":{"datum":0}}},
{"data":{"name":"hes"},"mark":{"type":"rule","color":"#6a5fb5","strokeWidth":1.1},"encoding":{
"x":{"field":"pos","type":"quantitative","scale":{"domain":[11081283,11085553],"range":[81,730],"nice":false,"zero":false},"axis":{"orient":"bottom","offset":-86,"ticks":false,"labels":false,"title":null,"domainColor":"#8a8a8a","domainWidth":1}},
"y":{"field":"v","type":"quantitative","scale":{"domain":[0,9],"range":[557,528],"nice":false,"zero":false},"axis":{"orient":"left","offset":-81,"values":[9],"ticks":false,"labelPadding":3,"labelFontSize":11,"domainColor":"#8a8a8a","domainWidth":1,"title":"hES","titleAngle":0,"titleAlign":"right","titleBaseline":"middle","titleX":-14,"titleY":545}},
"y2":{"datum":0}}},
{"data":{"name":"healthy"},"mark":{"type":"rule","color":"#6a5fb5","strokeWidth":1.3},"encoding":{
"x":{"field":"pos","type":"quantitative","scale":{"domain":[11081283,11085553],"range":[81,730],"nice":false,"zero":false},"axis":{"orient":"bottom","offset":-71,"ticks":false,"labels":false,"title":null,"domainColor":"#8a8a8a","domainWidth":1}},
"y":{"field":"v","type":"quantitative","scale":{"domain":[0,1],"range":[572,563],"nice":false,"zero":false},"axis":{"orient":"left","offset":-81,"values":[1],"ticks":false,"labelPadding":3,"labelFontSize":11,"labelBaseline":"top","domainColor":"#8a8a8a","domainWidth":1,"title":"Healthy","titleAngle":0,"titleAlign":"right","titleBaseline":"middle","titleX":-14,"titleY":567}},
"y2":{"datum":0}}},
{"data":{"name":"ftld"},"mark":{"type":"rule","color":"#6a5fb5","strokeWidth":1.3},"encoding":{
"x":{"field":"pos","type":"quantitative","scale":{"domain":[11081283,11085553],"range":[81,730],"nice":false,"zero":false},"axis":{"orient":"bottom","offset":-57,"ticks":false,"labels":false,"title":null,"domainColor":"#8a8a8a","domainWidth":1}},
"y":{"field":"v","type":"quantitative","scale":{"domain":[0,1],"range":[586,577],"nice":false,"zero":false},"axis":{"orient":"left","offset":-81,"values":[1],"ticks":false,"labelPadding":3,"labelFontSize":11,"labelBaseline":"top","domainColor":"#8a8a8a","domainWidth":1,"title":"FTLD–TDP","titleAngle":0,"titleAlign":"right","titleBaseline":"middle","titleX":-13,"titleY":582}},
"y2":{"datum":0}}},
{"data":{"name":"gene"},"transform":[{"filter":"datum.part=='intron'"}],"mark":{"type":"rule","color":"#000","strokeWidth":1},"encoding":{"x":{"field":"start","type":"quantitative","scale":{"domain":[11081283,11085553],"range":[81,730],"nice":false,"zero":false},"axis":null},"x2":{"field":"end"},"y":{"datum":0.5,"type":"quantitative","scale":{"domain":[0,1],"range":[610,598],"nice":false,"zero":false},"axis":null}}},
{"data":{"name":"gene"},"transform":[{"filter":"datum.part=='intron'"}],"mark":{"type":"rule","color":"#000","strokeWidth":5,"strokeDash":[1,4]},"encoding":{"x":{"field":"start","type":"quantitative","scale":{"domain":[11081283,11085553],"range":[81,730],"nice":false,"zero":false},"axis":null},"x2":{"field":"end"},"y":{"datum":0.5,"type":"quantitative","scale":{"domain":[0,1],"range":[610,598],"nice":false,"zero":false},"axis":null}}},
{"data":{"name":"gene"},"transform":[{"filter":"datum.part=='cds'"}],"mark":{"type":"rule","color":"#000","strokeWidth":9},"encoding":{"x":{"field":"start","type":"quantitative","scale":{"domain":[11081283,11085553],"range":[81,730],"nice":false,"zero":false},"axis":null},"x2":{"field":"end"},"y":{"datum":0.5,"type":"quantitative","scale":{"domain":[0,1],"range":[610,598],"nice":false,"zero":false},"axis":null}}},
{"data":{"name":"gene"},"transform":[{"filter":"datum.part=='utr'"}],"mark":{"type":"rule","color":"#000","strokeWidth":4},"encoding":{"x":{"field":"start","type":"quantitative","scale":{"domain":[11081283,11085553],"range":[81,730],"nice":false,"zero":false},"axis":null},"x2":{"field":"end"},"y":{"datum":0.5,"type":"quantitative","scale":{"domain":[0,1],"range":[610,598],"nice":false,"zero":false},"axis":null}}},
{"data":{"values":[{}]},"mark":{"type":"text","text":"TARDBP","fontSize":12.5,"fontStyle":"italic","align":"center","baseline":"middle"},"encoding":{"x":{"datum":11080987,"type":"quantitative","scale":{"domain":[11081283,11085553],"range":[81,730],"nice":false,"zero":false},"axis":null},"y":{"datum":0.5,"type":"quantitative","scale":{"domain":[0,1],"range":[610,598],"nice":false,"zero":false},"axis":null}}},
{"data":{"name":"seqbox"},"mark":{"type":"rule","color":"#000","strokeWidth":1},"encoding":{"x":{"field":"x","type":"quantitative","scale":{"domain":[-0.5,87.5],"range":[4,746],"nice":false,"zero":false},"axis":null},"x2":{"field":"x2"},"y":{"field":"y","type":"quantitative","scale":{"domain":[0,10],"range":[642,612],"nice":false,"zero":false},"axis":null},"y2":{"field":"y2"}}},
{"data":{"name":"seq"},"transform":[{"filter":"datum.ug==1"}],"mark":{"type":"text","color":"#e3202a","fontSize":12.5,"align":"center","baseline":"middle","font":"Liberation Sans Narrow, DejaVu Sans Condensed, Liberation Sans"},"encoding":{"x":{"field":"i","type":"quantitative","scale":{"domain":[-0.5,87.5],"range":[4,746],"nice":false,"zero":false},"axis":null},"y":{"datum":3.33,"type":"quantitative","scale":{"domain":[0,10],"range":[642,612],"nice":false,"zero":false},"axis":null},"text":{"field":"nt"}}},
{"data":{"name":"seq"},"transform":[{"filter":"datum.ug==0"}],"mark":{"type":"text","color":"#000","fontSize":12.5,"align":"center","baseline":"middle","font":"Liberation Sans Narrow, DejaVu Sans Condensed, Liberation Sans"},"encoding":{"x":{"field":"i","type":"quantitative","scale":{"domain":[-0.5,87.5],"range":[4,746],"nice":false,"zero":false},"axis":null},"y":{"datum":3.33,"type":"quantitative","scale":{"domain":[0,10],"range":[642,612],"nice":false,"zero":false},"axis":null},"text":{"field":"nt"}}}
],
"resolve":{"scale":{"x":"independent","y":"independent"},"axis":{"x":"independent","y":"independent"}}
}
